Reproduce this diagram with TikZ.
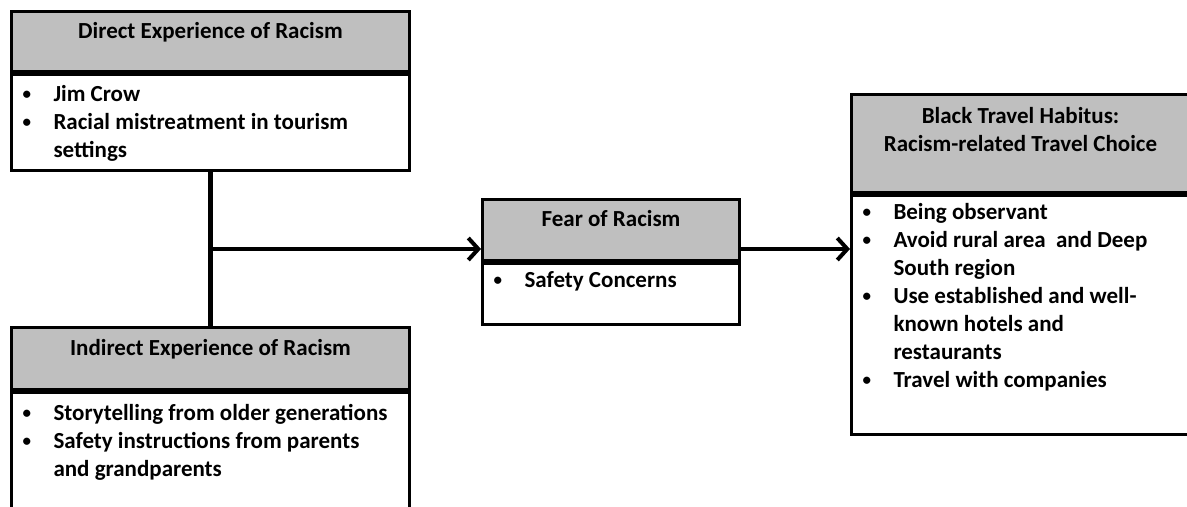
\documentclass[tikz,border=0pt]{standalone}
\usepackage{fontspec}
\setmainfont{Carlito}
\usepackage{xcolor}
\usetikzlibrary{arrows.meta,positioning,calc}
\definecolor{headgray}{RGB}{191,191,191}
\newcommand{\bul}{\raisebox{0.8pt}{\fontsize{8.5}{8.5}\selectfont\textbullet}}
\newcommand{\bullist}[2]{\begin{tabular}[t]{@{\hspace{5.5pt}}p{15.5pt}@{}p{#1}@{}}#2\end{tabular}}
\newcommand{\headtext}[1]{\begin{tabular}[t]{@{}c@{}}#1\end{tabular}}

\begin{document}
\begin{tikzpicture}[
  x=0.5pt, y=-0.5pt,
  font=\fontsize{11.5}{14}\selectfont\bfseries,
  head/.style={rectangle,draw,fill=headgray,line width=1.5pt,inner sep=0pt,anchor=north west},
  body/.style={rectangle,draw,fill=white,line width=1.5pt,inner sep=0pt,anchor=north west},
  conn/.style={line width=2.2pt},
  arr/.style={line width=2pt,-{Straight Barb[length=5pt,width=11pt]}}
]
  \useasboundingbox (0,0) rectangle (1187,507);
  \clip (0,0) rectangle (1187,507);

  % left column
  \node[head,minimum width=199pt,text height=13.5pt,text depth=16.5pt] (dirhead) at (10,10)
    {\headtext{Direct Experience of Racism}};
  \node[body,minimum width=199pt,text height=13.5pt,text depth=34.5pt] (dirbody) at (dirhead.south west)
    {\bullist{178pt}{\bul & Jim Crow\\ \bul & Racial mistreatment in tourism\\ & settings}};
  \node[head,minimum width=199pt,text height=14pt,text depth=17pt] (indhead) at (10,326)
    {\headtext{Indirect Experience of Racism}};
  \node[body,minimum width=199pt,text height=14pt,text depth=51pt] (indbody) at (indhead.south west)
    {\bullist{178pt}{\bul & Storytelling from older generations\\ \bul & Safety instructions from parents\\ & and grandparents}};

  % middle
  \node[head,minimum width=128.5pt,text height=13.5pt,text depth=17pt] (fearhead) at (481,198)
    {\headtext{Fear of Racism}};
  \node[body,minimum width=128.5pt,text height=12pt,text depth=18.5pt] (fearbody) at (fearhead.south west)
    {\bullist{107.5pt}{\bul & Safety Concerns}};

  % right
  \node[head,minimum width=169pt,text height=14.5pt,text depth=34.5pt] (travhead) at (850,93)
    {\headtext{Black Travel Habitus:\\ Racism-related Travel Choice}};
  \node[body,minimum width=169pt,text height=12pt,text depth=107.5pt] (travbody) at (travhead.south west)
    {\bullist{148pt}{\bul & Being observant\\ \bul & Avoid rural area\ \ and Deep\\ & South region\\
      \bul & Use established and well-\\ & known hotels and\\ & restaurants\\ \bul & Travel with companies}};

  % connectors
  \draw[conn] (dirbody.south) -- (indhead.north);
  \coordinate (junc) at ($(dirbody.south)!0.5!(indhead.north)$);
  \draw[arr] (junc) -- (junc -| fearhead.west);
  \draw[arr] (junc -| fearhead.east) -- (junc -| travhead.west);
\end{tikzpicture}
\end{document}
